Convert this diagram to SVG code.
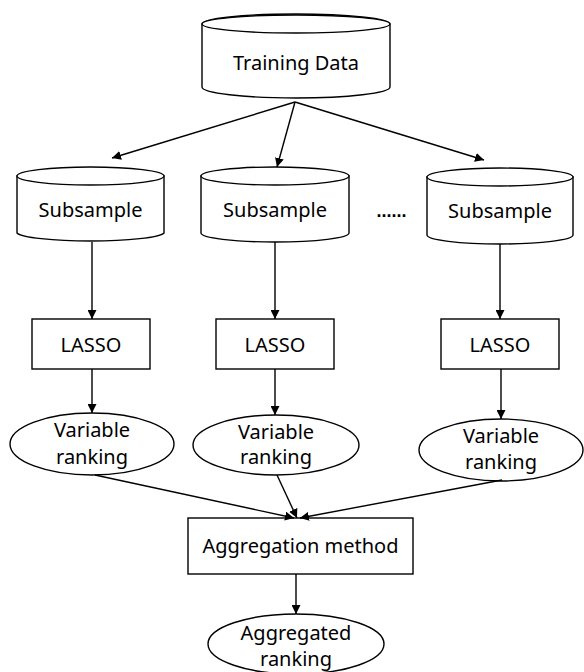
<svg xmlns="http://www.w3.org/2000/svg" width="584" height="672" viewBox="0 0 584 672">
  <defs>
    <marker id="arrow" viewBox="0 0 10 10" refX="10" refY="5" markerWidth="9" markerHeight="9" markerUnits="userSpaceOnUse" orient="auto">
      <path d="M0,0 L10,5 L0,10 z" fill="#000"/>
    </marker>
    <style>
      .shape { fill: #fff; stroke: #000; stroke-width: 1.4; }
      .label { font-family: "Noto Sans", "Open Sans", sans-serif; font-size: 20px; fill: #000; text-anchor: middle; }
      .edge { fill: none; stroke: #000; stroke-width: 1.4; marker-end: url(#arrow); }
    </style>
  </defs>
  <rect width="584" height="672" fill="#fff"/>

  <g id="training-data">
    <path class="shape" d="M202,24 L202,87 A94,11 0 0 0 390,87 L390,24 A94,10 0 0 0 202,24 Z"/>
    <ellipse class="shape" cx="296" cy="24" rx="94" ry="9"/>
    <text class="label" x="296" y="70">Training Data</text>
  </g>

  <g id="subsample-1">
    <path class="shape" d="M17,176 L17,233 A74,9 0 0 0 164,233 L164,176 Z"/>
    <ellipse class="shape" cx="90.5" cy="176" rx="73.5" ry="9"/>
    <text class="label" x="90.5" y="217">Subsample</text>
  </g>
  <g id="subsample-2">
    <path class="shape" d="M201,176 L201,233 A74,9 0 0 0 349,233 L349,176 Z"/>
    <ellipse class="shape" cx="275" cy="176" rx="74" ry="9"/>
    <text class="label" x="275" y="217">Subsample</text>
  </g>
  <text id="ellipsis" x="391.5" y="217" style="font-family: 'Liberation Sans', sans-serif; font-size: 18px; font-weight: bold; text-anchor: middle;">......</text>
  <g id="subsample-3">
    <path class="shape" d="M427,177 L427,235 A73,9 0 0 0 573,235 L573,177 Z"/>
    <ellipse class="shape" cx="500" cy="177" rx="73" ry="9"/>
    <text class="label" x="500" y="218">Subsample</text>
  </g>

  <g id="lasso-1">
    <rect class="shape" x="32" y="319" width="118" height="50"/>
    <text class="label" x="91" y="352">LASSO</text>
  </g>
  <g id="lasso-2">
    <rect class="shape" x="216" y="319" width="118" height="50"/>
    <text class="label" x="275" y="352">LASSO</text>
  </g>
  <g id="lasso-3">
    <rect class="shape" x="441" y="319" width="118" height="50"/>
    <text class="label" x="500" y="352">LASSO</text>
  </g>

  <g id="ranking-1">
    <ellipse class="shape" cx="92" cy="444" rx="82" ry="31"/>
    <text class="label" x="92" y="437">Variable</text>
    <text class="label" x="92" y="464">ranking</text>
  </g>
  <g id="ranking-2">
    <ellipse class="shape" cx="276" cy="445" rx="83" ry="30"/>
    <text class="label" x="276" y="439">Variable</text>
    <text class="label" x="276" y="464">ranking</text>
  </g>
  <g id="ranking-3">
    <ellipse class="shape" cx="501" cy="450" rx="82" ry="31"/>
    <text class="label" x="501" y="443">Variable</text>
    <text class="label" x="501" y="469">ranking</text>
  </g>

  <g id="aggregation">
    <rect class="shape" x="188" y="518" width="225" height="56"/>
    <text class="label" x="300.5" y="553">Aggregation method</text>
  </g>

  <g id="aggregated-ranking">
    <ellipse class="shape" cx="296" cy="644" rx="88" ry="30"/>
    <text class="label" x="296" y="640">Aggregated</text>
    <text class="label" x="296" y="666">ranking</text>
  </g>

  <g id="connectors">
    <line class="edge" x1="295" y1="102" x2="112" y2="158"/>
    <line class="edge" x1="295" y1="102" x2="277" y2="167"/>
    <line class="edge" x1="295" y1="102" x2="484" y2="160"/>

    <line class="edge" x1="92" y1="242" x2="92" y2="319"/>
    <line class="edge" x1="275" y1="242" x2="275" y2="319"/>
    <line class="edge" x1="500" y1="244" x2="500" y2="319"/>

    <line class="edge" x1="92" y1="369" x2="92" y2="413"/>
    <line class="edge" x1="275" y1="369" x2="275" y2="415"/>
    <line class="edge" x1="501" y1="369" x2="501" y2="419"/>

    <line class="edge" x1="95" y1="475" x2="294" y2="518"/>
    <line class="edge" x1="277" y1="475" x2="297" y2="518"/>
    <line class="edge" x1="502" y1="480" x2="300" y2="518"/>

    <line class="edge" x1="296" y1="574" x2="296" y2="614"/>
  </g>
</svg>
